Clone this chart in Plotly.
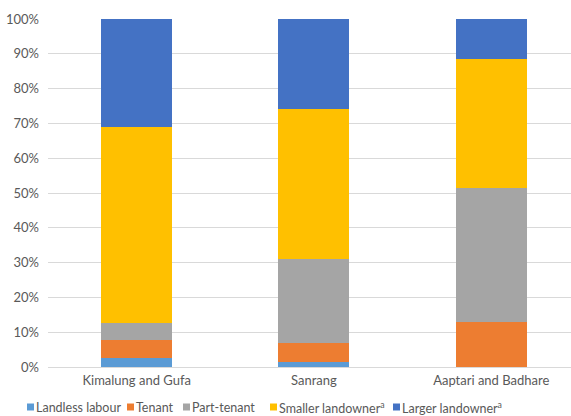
import plotly.graph_objects as go

# Share of households by tenure class in each study area (percent)
sites = ["Kimalung and Gufa", "Sanrang", "Aaptari and Badhare"]
landless_labour = [2.6, 1.5, 0.0]
tenant = [5.2, 5.5, 13.0]
part_tenant = [4.9, 24.0, 38.4]
smaller_landowner = [56.3, 43.1, 37.1]
larger_landowner = [31.0, 25.9, 11.5]

series = [
    ("Landless labour", landless_labour, "#5B9BD5"),
    ("Tenant", tenant, "#ED7D31"),
    ("Part-tenant", part_tenant, "#A5A5A5"),
    ("Smaller landowner<sup>a</sup>", smaller_landowner, "#FFC000"),
    ("Larger landowner<sup>a</sup>", larger_landowner, "#4472C4"),
]

W, H = 571, 416
ML, MR, MT, MB = 48, 0, 19, 49
plot_w = W - ML - MR
plot_h = H - MT - MB

font_family = "Lato, 'Open Sans', sans-serif"
text_color = "#595959"

fig = go.Figure()
for name, vals, color in series:
    fig.add_trace(go.Bar(
        x=sites,
        y=[v / 100 for v in vals],
        name=name,
        marker=dict(color=color, line=dict(width=0)),
        width=0.4,
        showlegend=False,
    ))

# Compact single-row legend under the axis: coloured square + label
legend_left_px = [27, 127, 183, 270, 393]
legend_mid_px = 407
sq = 7


def px_to_paper_x(px):
    return (px - ML) / plot_w


def px_to_paper_y(py):
    return (H - MB - py) / plot_h


shapes = []
annotations = []
for (name, _, color), left in zip(series, legend_left_px):
    shapes.append(dict(
        type="rect", xref="paper", yref="paper",
        x0=px_to_paper_x(left), x1=px_to_paper_x(left + sq),
        y0=px_to_paper_y(legend_mid_px + sq / 2),
        y1=px_to_paper_y(legend_mid_px - sq / 2),
        fillcolor=color, line=dict(width=0),
    ))
    annotations.append(dict(
        text=name, xref="paper", yref="paper",
        x=px_to_paper_x(left + sq + 1), y=px_to_paper_y(legend_mid_px),
        xanchor="left", yanchor="middle", showarrow=False,
        borderpad=0,
        font=dict(family=font_family, size=12.5, color=text_color),
    ))

fig.update_layout(
    barmode="stack",
    width=W,
    height=H,
    margin=dict(l=ML, r=MR, t=MT, b=MB, autoexpand=False),
    paper_bgcolor="white",
    plot_bgcolor="white",
    font=dict(family=font_family, size=13, color=text_color),
    showlegend=False,
    shapes=shapes,
    annotations=annotations,
    xaxis=dict(
        range=[-0.5, 2.45],
        showgrid=False,
        showline=False,
        ticks="",
        ticklabelstandoff=4,
        tickfont=dict(size=13, color=text_color),
    ),
    yaxis=dict(
        range=[0, 1],
        tickvals=[i / 10 for i in range(11)],
        tickformat=".0%",
        showgrid=True,
        gridcolor="#D9D9D9",
        gridwidth=1,
        zeroline=True,
        zerolinecolor="#D9D9D9",
        zerolinewidth=1,
        ticks="",
        ticklabelstandoff=8,
        tickfont=dict(size=13, color=text_color),
    ),
)

fig.write_html("out.html")
